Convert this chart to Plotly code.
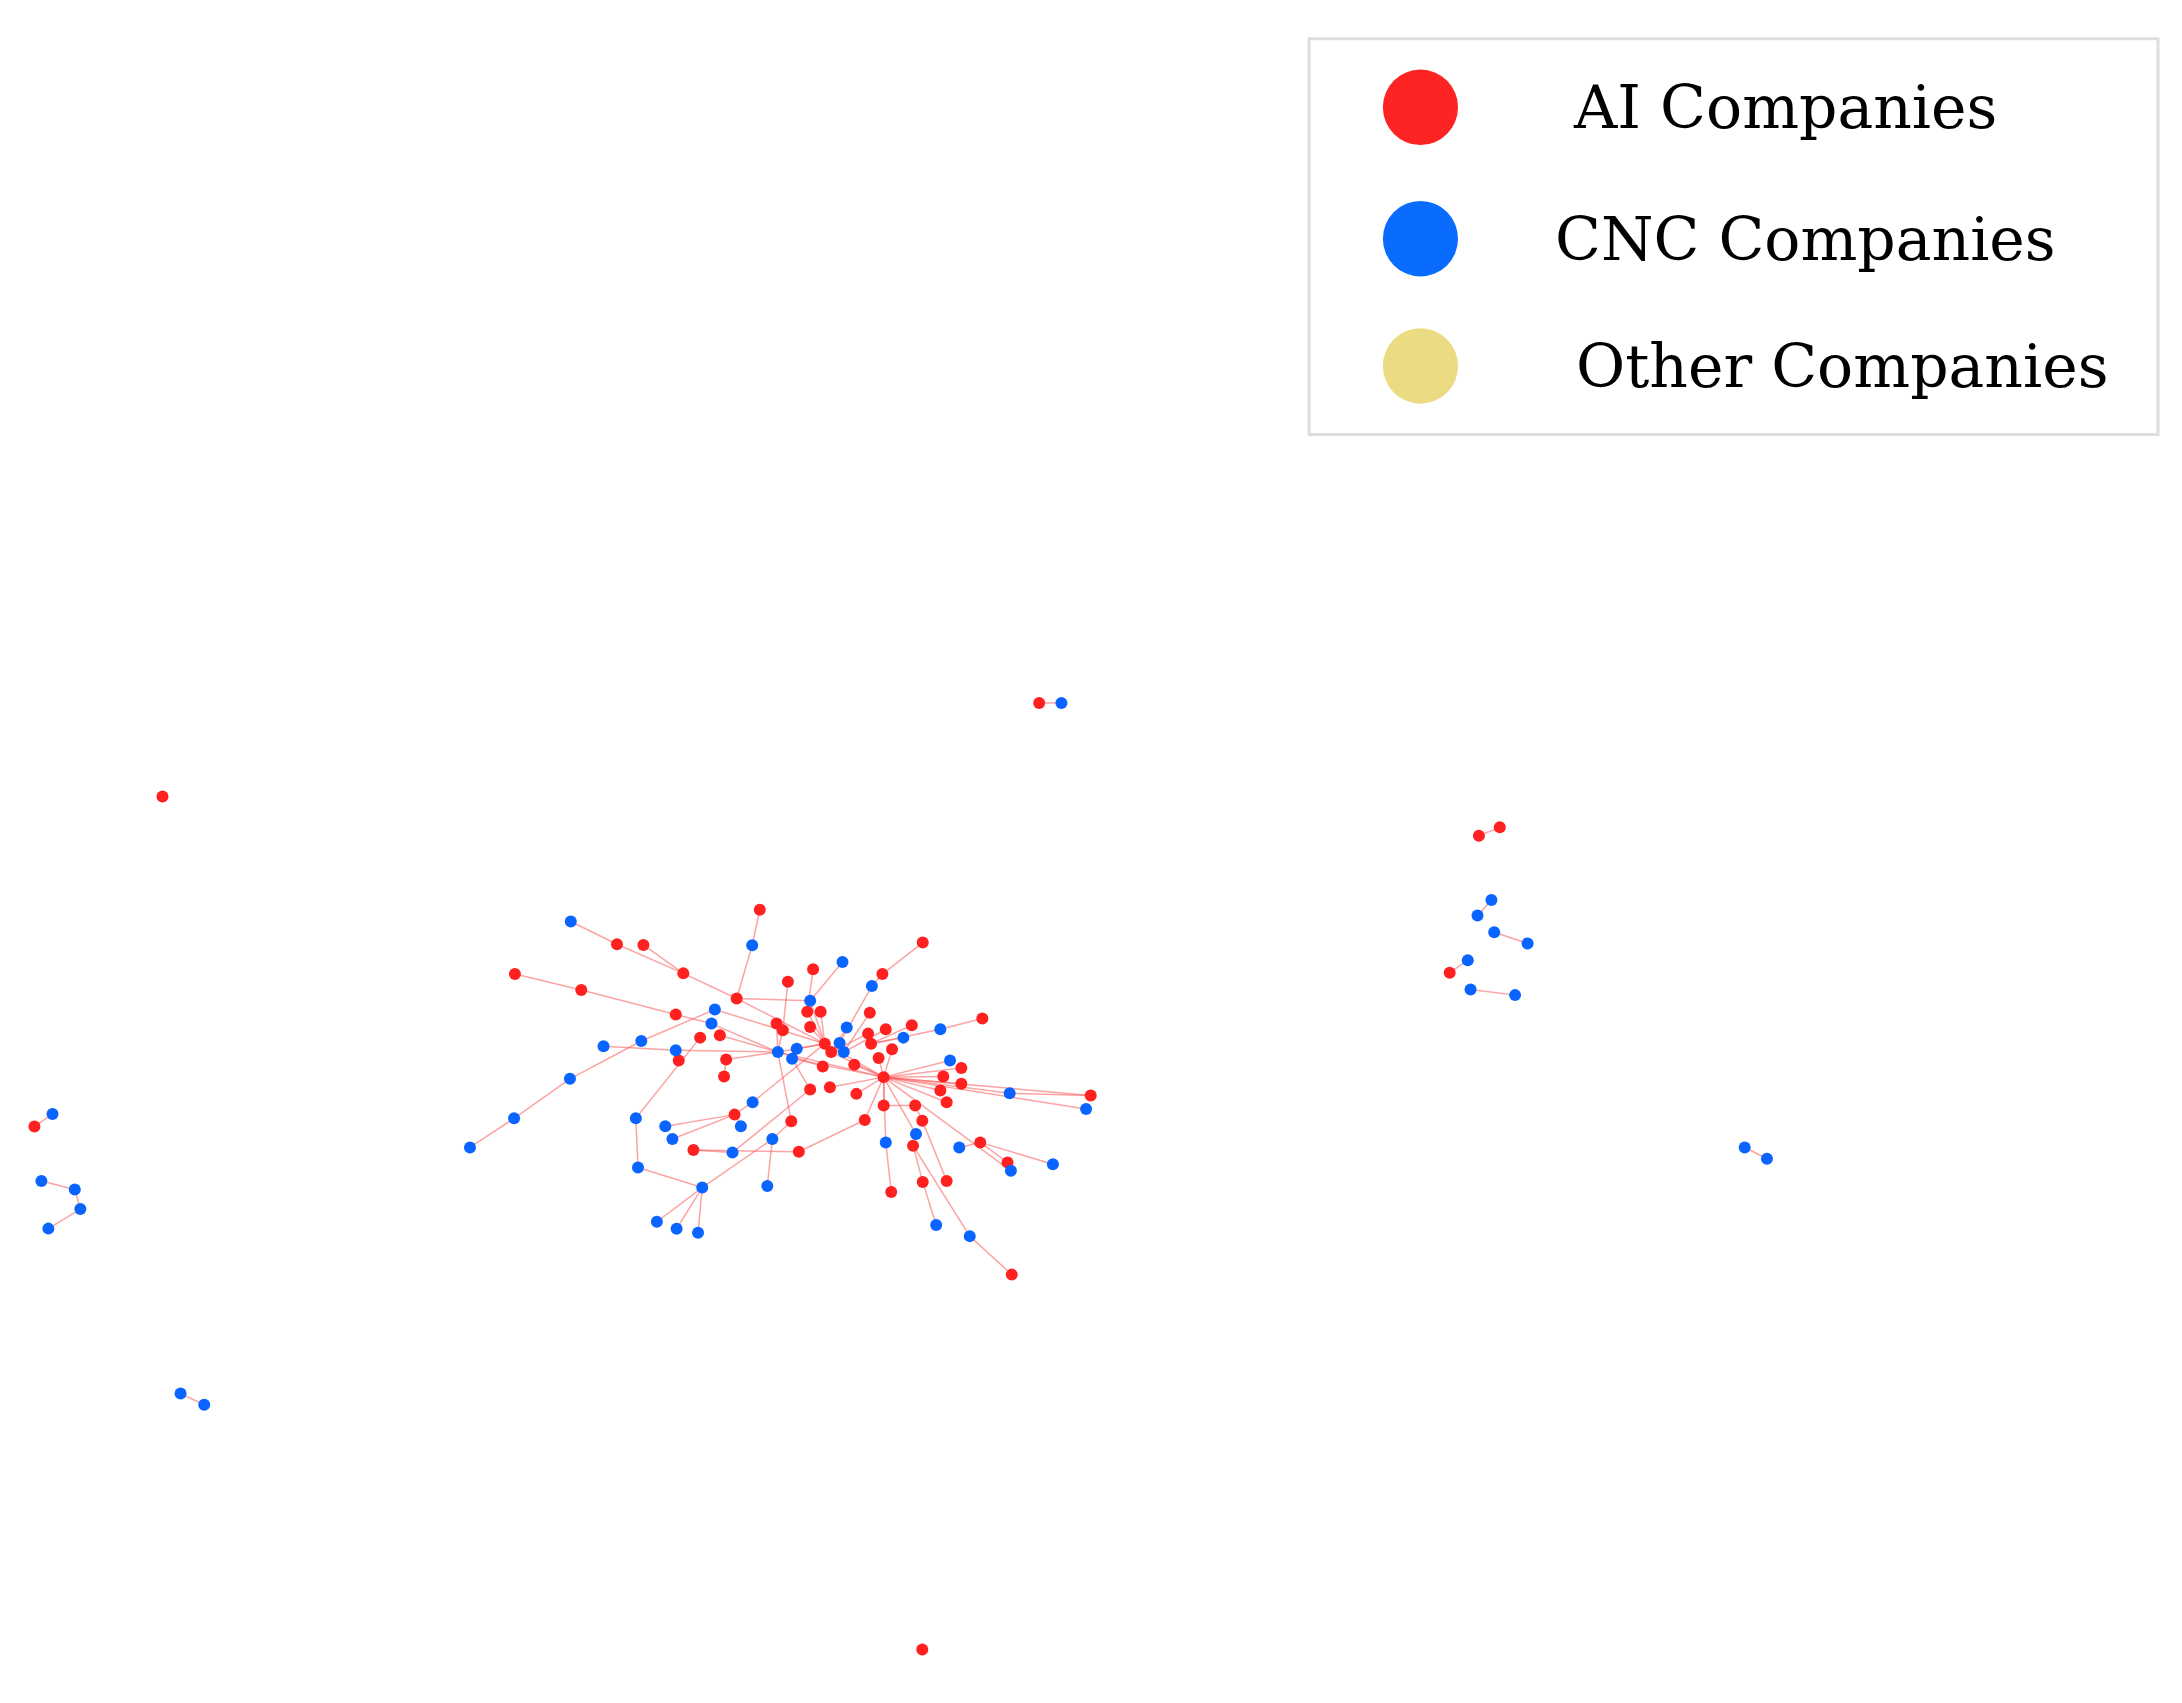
import plotly.graph_objects as go

node_x = []
node_y = []
node_type = []

cluster = [
 ("B",285,115),("R",395,183),("R",458,185),("R",553,270),("R",152,272),("R",310,320),("R",535,393),
 ("R",735,80),("B",717,186),("R",680,345),("R",1123,178),("R",1027,272),("B",1002,308),("B",932,236),
 ("R",862,258),("R",802,295),("B",855,352),("R",848,385),("R",880,385),("R",997,388),("R",1265,405),
 ("B",1165,437),("R",1097,425),("R",1035,437),("B",1077,462),("R",993,450),("B",942,432),("R",855,430),
 ("R",775,420),("R",790,440),("B",628,378),("B",620,420),("R",640,455),("R",593,462),("B",453,472),
 ("B",363,488),("B",535,500),("R",542,530),("R",655,527),("R",650,578),("B",778,505),("B",823,495),
 ("B",812,525),("R",890,480),("B",925,478),("R",905,505),("B",935,505),("R",1000,480),("R",1050,497),
 ("R",1018,523),("R",960,543),("R",885,548),("R",1030,580),("B",1188,530),("R",1215,553),("R",1172,578),
 ("R",1215,600),("R",1165,620),("R",1180,655),("B",1330,628),("R",1523,635),("B",1512,675),("B",283,585),
 ("B",150,703),("B",45,790),("R",855,617),("R",902,610),("R",965,630),("R",1030,665),("R",1105,665),
 ("R",1122,710),("R",985,708),("R",810,712),("B",718,655),("R",675,692),("B",690,727),("B",510,727),
 ("B",527,765),("B",440,703),("B",445,850),("B",598,910),("B",490,1012),("B",537,1033),("B",588,1045),
 ("R",577,798),("B",670,805),("R",828,803),("B",765,765),("B",753,905),("B",1035,775),("B",1107,750),
 ("R",1100,785),("B",1210,790),("R",1260,775),("R",1325,835),("B",1333,860),("B",1433,840),("R",1123,893),
 ("R",1180,890),("R",1048,923),("B",1155,1022),("B",1235,1055),("R",1335,1170),
]
for t, zx, zy in cluster:
    node_type.append(t)
    node_x.append(323.4 + zx * 0.3018)
    node_y.append(632.8 + zy * 0.2394)

outliers = [
 ("R",746,504),("B",762,504),("R",116,571),("R",1062,599),("R",1077,593),
 ("B",1071,645),("B",1061,656),("B",1073,668),("B",1097,676),
 ("R",1041,697),("B",1054,688),("B",1056,709),("B",1088,713),
 ("B",1253,822),("B",1269,830),("R",24,807),("B",37,798),
 ("B",29,846),("B",53,852),("B",57,866),("B",34,880),
 ("B",129,998),("B",146,1006),("R",662,1181),
]
for t, x, y in outliers:
    node_type.append(t); node_x.append(x); node_y.append(y)

edges = [
 (1,2),(2,4),(3,4),(4,10),(5,6),(6,7),(7,32),(8,9),(9,10),(10,17),(10,44),(11,12),(12,13),(13,45),
 (14,17),(15,18),(16,30),(17,44),(18,44),(19,44),(20,47),(21,22),(22,48),(23,48),(24,47),(25,48),
 (26,46),(27,46),(28,44),(29,41),(30,41),(31,44),(32,41),(33,41),(34,79),(65,64),(64,63),(63,35),
 (35,31),(36,37),(37,41),(38,37),(39,41),(40,39),(41,44),(42,44),(43,53),(44,53),(41,53),(46,53),
 (53,54),(53,55),(53,56),(53,57),(53,58),(53,59),(53,60),(60,61),(53,61),(53,62),(49,53),(50,53),
 (51,53),(52,41),(66,43),(67,53),(68,53),(69,53),(70,69),(71,70),(72,87),(87,85),(73,88),(74,75),
 (75,77),(75,78),(76,75),(74,44),(79,80),(80,81),(81,82),(81,83),(81,84),(81,88),(88,89),(86,66),
 (90,100),(90,53),(91,53),(92,98),(98,101),(99,71),(102,103),(102,92),(93,94),(94,95),(95,96),
 (96,53),(97,94),(72,53),(73,41),(85,86),
 (104,105),(107,108),(109,110),(111,112),(113,114),(115,116),(117,118),(119,120),(121,122),
 (122,123),(123,124),(125,126),
]

ex, ey = [], []
for a, b in edges:
    ex += [node_x[a-1], node_x[b-1], None]
    ey += [node_y[a-1], node_y[b-1], None]

fig = go.Figure()
fig.add_trace(go.Scatter(x=ex, y=ey, mode="lines",
                         line=dict(color="rgba(250,90,90,0.55)", width=1.5),
                         hoverinfo="skip", showlegend=False))
colors = {"R": "#ff2020", "B": "#0a64ff"}
for t in ["R", "B"]:
    xs = [x for x, tt in zip(node_x, node_type) if tt == t]
    ys = [y for y, tt in zip(node_y, node_type) if tt == t]
    fig.add_trace(go.Scatter(x=xs, y=ys, mode="markers",
                             marker=dict(color=colors[t], size=12),
                             showlegend=False))

legend_labels = ["AI Companies", "CNC Companies", "Other Companies"]
legend_colors = ["#ff2424", "#0a6cff", "#ebdb82"]
legend_y = [78, 172, 263]
label_x = [1128, 1115, 1130]
shapes = [dict(type="rect", xref="x", yref="y", x0=940, y0=29, x1=1550, y1=312,
               line=dict(color="#dddddd", width=3), fillcolor="white", layer="below")]
for c, y in zip(legend_colors, legend_y):
    shapes.append(dict(type="circle", xref="x", yref="y", x0=993, x1=1047, y0=y-27, y1=y+27,
                       line=dict(width=0), fillcolor=c))
annotations = [dict(x=lx, y=y, xref="x", yref="y", text=lab, showarrow=False, xanchor="left",
                    font=dict(family="DejaVu Serif", size=60, color="black"))
               for lab, y, lx in zip(legend_labels, legend_y, label_x)]

fig.update_layout(width=2182, height=1703, margin=dict(l=0, r=0, t=0, b=0),
                  plot_bgcolor="white", paper_bgcolor="white",
                  xaxis=dict(range=[5, 1573], visible=False),
                  yaxis=dict(range=[1225, 7], visible=False),
                  shapes=shapes, annotations=annotations)
fig.write_html("out.html")
